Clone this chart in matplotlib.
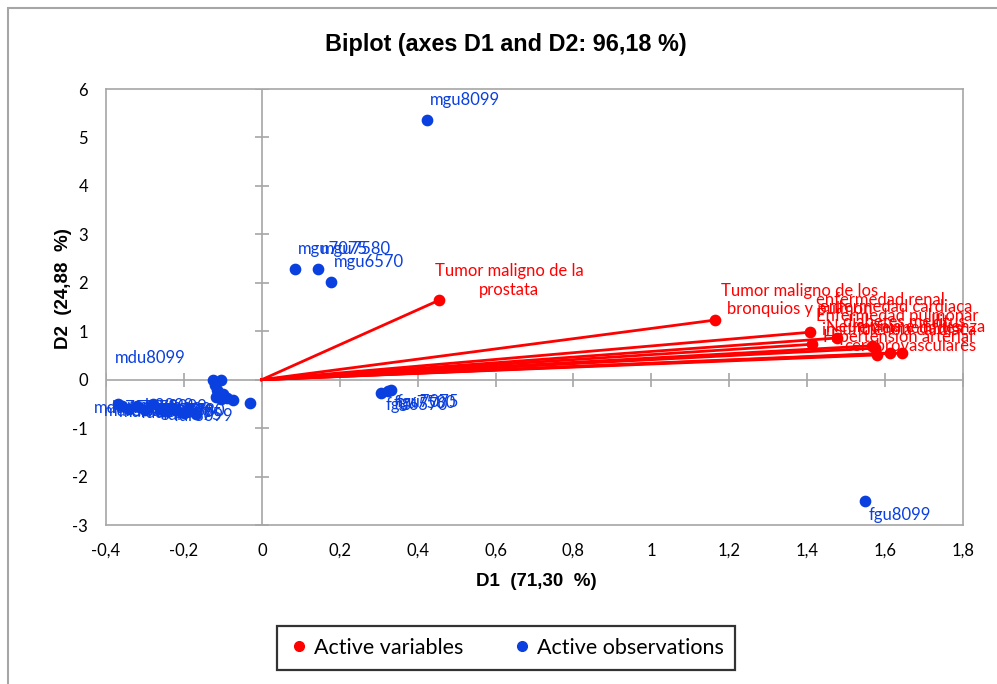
import numpy as np
import matplotlib
matplotlib.use("Agg")
import matplotlib.pyplot as plt
from matplotlib.lines import Line2D
from matplotlib.patches import Rectangle

plt.rcParams['font.family'] = ['Lato', 'DejaVu Sans']

# active variables (red arrows)
var_names = [
    "Tumor maligno de la\nprostata",
    "Tumor maligno de los\nbronquios y pulmon",
    "enfermedad renal",
    "enfermedad cardiaca",
    "insuficiencia cardiaca",
    "Enfermedad pulmonar",
    "diabetes mellitus",
    "enfermedades\ncerebrovasculares",
    "Hipertension arterial",
    "Neumonia e influenza",
]
var_d1 = [0.455, 1.163, 1.408, 1.476, 1.412, 1.567, 1.574, 1.579, 1.613, 1.644]
var_d2 = [1.64, 1.23, 0.98, 0.86, 0.73, 0.70, 0.65, 0.51, 0.55, 0.55]

# active observations (blue points)
obs_names = [
    "mgu8099", "mgu7075", "mgu7580", "mgu6570", "fgu8099",
    "fgu6570", "fgu7075", "fgu7580",
    "mgr6570", "mgr7075", "mgr7580", "fgr6570", "fgr7075", "fgr7580",
    "mgr8099", "fgr8099", "mdu6570", "mdu7075", "fdu6570",
    "mdu7580", "mdu8099", "mdr6570", "mdr7075", "mdr7580", "mdr8099",
    "fdu7075", "fdu7580", "fdu8099", "fdr6570", "fdr7075", "fdr7580", "fdr8099",
]
obs_d1 = [0.424, 0.085, 0.144, 0.178, 1.549,
          0.306, 0.332, 0.325,
          -0.125, -0.105, -0.12, -0.115, -0.11, -0.10,
          -0.118, -0.09, -0.075, -0.105, -0.03,
          -0.36, -0.37, -0.34, -0.32, -0.30, -0.28,
          -0.26, -0.25, -0.23, -0.22, -0.20, -0.19, -0.17]
obs_d2 = [5.36, 2.29, 2.29, 2.02, -2.50,
          -0.275, -0.21, -0.23,
          0.0, 0.0, -0.12, -0.22, -0.28, -0.30,
          -0.35, -0.38, -0.43, -0.40, -0.48,
          -0.55, -0.50, -0.60, -0.55, -0.62, -0.50,
          -0.60, -0.65, -0.58, -0.62, -0.68, -0.60, -0.70]

x_ticks = [-0.4, -0.2, 0, 0.2, 0.4, 0.6, 0.8, 1, 1.2, 1.4, 1.6, 1.8]
y_ticks = [-3, -2, -1, 0, 1, 2, 3, 4, 5, 6]

# label placement (offset in pixels from the point)
var_offsets = [(70, -20), (85, -20), (70, -32), (59, -31), (87, -14),
               (25, -30), (29, -26), (33, -18), (8, -16), (3, -26)]

RED = '#FF0000'
BLUE = '#0A3FE0'
GRAY = '#A6A6A6'
PX = 72 / 100.0

fig = plt.figure(figsize=(9.97, 6.84), dpi=100)
ax = fig.add_axes([106 / 997, 1 - 525 / 684, 857 / 997, 436 / 684])

ax.axhline(0, color=GRAY, lw=1.2, zorder=1)
ax.axvline(0, color=GRAY, lw=1.2, zorder=1)
ax.plot([0] * len(y_ticks), y_ticks, ls='none', marker='_', ms=10, color=GRAY, mew=1.2, zorder=1)
ax.plot(x_ticks, [0] * len(x_ticks), ls='none', marker='|', ms=10, color=GRAY, mew=1.2, zorder=1)

for x, y in zip(var_d1, var_d2):
    ax.plot([0, x], [0, y], color=RED, lw=2, zorder=3)
ax.scatter(var_d1, var_d2, s=55, color=RED, zorder=4)
for name, x, y, (dx, dy) in zip(var_names, var_d1, var_d2, var_offsets):
    ax.annotate(name, (x, y), xytext=(dx * PX, -dy * PX), textcoords='offset points',
                ha='center', va='center', multialignment='center',
                color=RED, fontsize=12, zorder=5)

ax.scatter(obs_d1, obs_d2, s=55, color=BLUE, zorder=4)
for i, (name, x, y) in enumerate(zip(obs_names, obs_d1, obs_d2)):
    if i in (0, 1, 2, 3):
        off, ha = (3, -20), 'left'
    elif i == 4:
        off, ha = (3, 14), 'left'
    elif i in (5, 6, 7):
        off, ha = (5, 12), 'left'
    elif name == "mdu8099":
        off, ha = (-3, -46), 'left'
    elif name == "mgr8099":
        off, ha = (-8, 10), 'right'
    elif name == "fgr8099":
        off, ha = (-12, 14), 'right'
    elif 8 <= i <= 18:
        continue
    else:
        off, ha = (8, 2), 'center'
    ax.annotate(name, (x, y), xytext=(off[0] * PX, -off[1] * PX), textcoords='offset points',
                ha=ha, va='center', color=BLUE, fontsize=12, zorder=5)

ax.set_xlim(-0.4, 1.8)
ax.set_ylim(-3, 6)
ax.set_xticks(x_ticks)
ax.set_yticks(y_ticks)
ax.set_xticklabels([('%g' % t).replace('.', ',') for t in x_ticks])
ax.set_yticklabels([str(t) for t in y_ticks])
ax.tick_params(length=0, labelsize=12, pad=13)
for s in ax.spines.values():
    s.set_color(GRAY)
    s.set_linewidth(1.2)

fig.text(536 / 997, 1 - 582 / 684, "D1  (71,30  %)", ha='center', va='center',
         fontsize=13.5, fontweight='bold', family='Liberation Sans')
fig.text(63 / 997, 1 - 289 / 684, "D2  (24,88  %)", ha='center', va='center', rotation=90,
         fontsize=13.5, fontweight='bold', family='Liberation Sans')
fig.text(506 / 997, 1 - 45 / 684, "Biplot (axes D1 and D2: 96,18 %)", ha='center', va='center',
         fontsize=16.8, fontweight='bold', family='Liberation Sans')

handles = [Line2D([], [], ls='none', marker='o', ms=7, color=RED, label='Active variables'),
           Line2D([], [], ls='none', marker='o', ms=7, color=BLUE, label='Active observations')]
leg = fig.legend(handles=handles, loc='center', bbox_to_anchor=(506 / 997, 1 - 648 / 684),
                 ncol=2, fontsize=15.5, frameon=True, fancybox=False, handletextpad=0.2,
                 columnspacing=2.2, borderpad=0.55, handlelength=1.0, borderaxespad=0)
leg.get_frame().set_edgecolor('black')
leg.get_frame().set_linewidth(1.6)

fig.patches.append(Rectangle((8 / 997, -0.1), 1.2, 1 - 8 / 684 + 0.1, transform=fig.transFigure,
                             fill=False, edgecolor=GRAY, lw=1.5))

fig.savefig('out.png', dpi=100)
